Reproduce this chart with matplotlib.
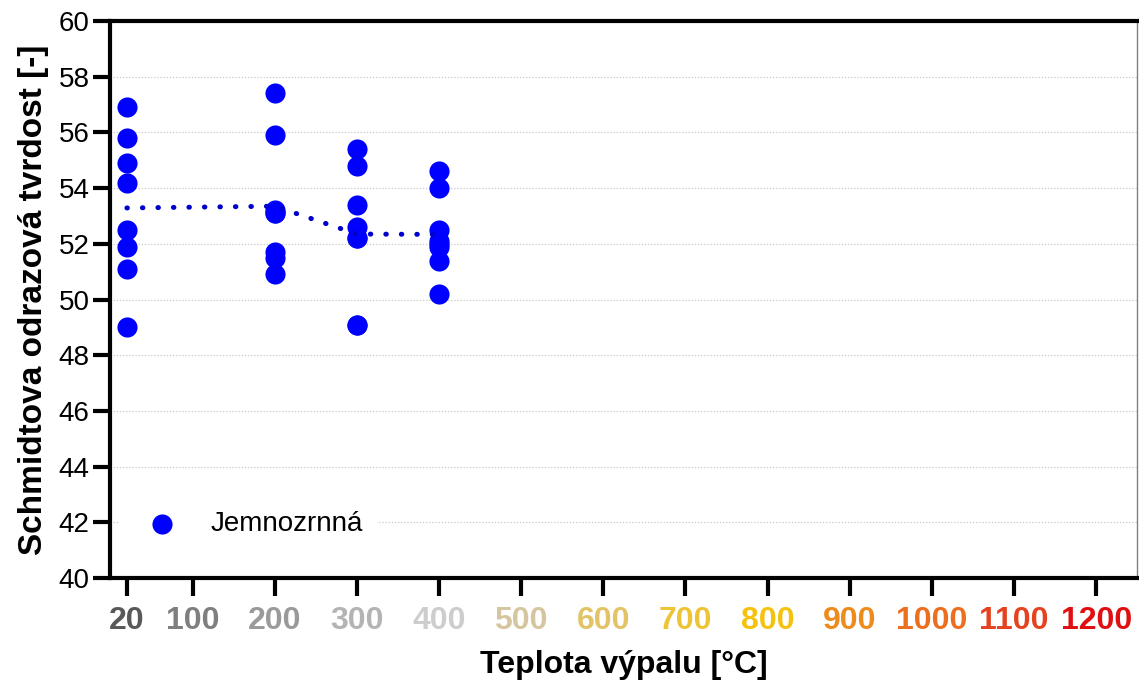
import numpy as np
import matplotlib
matplotlib.use('Agg')
import matplotlib.pyplot as plt

plt.rcParams['font.family'] = ['Liberation Sans', 'DejaVu Sans']

# Teploty výpalu a naměřené odrazy (Schmidtovo kladívko)
teploty = [20, 200, 300, 400]
odrazy = [
    [56.9, 55.8, 54.9, 54.2, 52.5, 51.9, 51.1, 49.0],
    [57.4, 55.9, 53.1, 53.2, 51.7, 51.5, 50.9, 53.1],
    [55.4, 54.8, 53.4, 52.6, 52.2, 52.2, 49.1, 49.1],
    [54.6, 54.0, 52.5, 52.1, 51.9, 51.4, 50.2, 52.0],
]

tick_teploty = [20, 100, 200, 300, 400, 500, 600, 700, 800, 900, 1000, 1100, 1200]
tick_barvy = ['#595959', '#7f7f7f', '#9a9a9a', '#b4b4b4', '#cdcdcd', '#d5c6a0',
              '#e2c467', '#eec437', '#f4c20f', '#ee8b1d', '#ec6e1f', '#e5431f', '#df0f12']

modra = '#0000ff'

fig = plt.figure(figsize=(11.39, 6.86), dpi=100)
ax = fig.add_axes([0.097, 0.1574, 0.9015, 0.812])

for t, vals in zip(teploty, odrazy):
    ax.scatter([t] * len(vals), vals, s=210, color=modra, zorder=3,
               linewidths=0, label='Jemnozrnná' if t == teploty[0] else None)

prumery = [np.mean(v) for v in odrazy]
ax.plot(teploty, prumery, color='#0000cc', lw=3.6, linestyle=(0, (0.1, 3.0)),
        dash_capstyle='round', zorder=4)

ax.set_xlim(0, 1250)
ax.set_ylim(40, 60)
ax.set_yticks(np.arange(40, 61, 2))
ax.set_xticks(tick_teploty)
ax.set_xticklabels([str(t) for t in tick_teploty])

for lab, c in zip(ax.get_xticklabels(), tick_barvy):
    lab.set_color(c)
    lab.set_fontweight('bold')
    lab.set_fontsize(23)
    lab.set_family(['Liberation Sans Narrow', 'Liberation Sans'])

ax.tick_params(axis='y', labelsize=20, length=12, width=3, pad=3)
ax.tick_params(axis='x', length=13, width=3, pad=7)

ax.grid(axis='y', linestyle=(0, (1, 1.5)), color='#c8c8c8', lw=0.9)
ax.set_axisbelow(True)

for s in ['left', 'bottom', 'top']:
    ax.spines[s].set_linewidth(3)
    ax.spines[s].set_color('black')
ax.spines['right'].set_linewidth(1)
ax.spines['right'].set_color('#808080')

ax.set_xlabel('Teplota výpalu [°C]', fontsize=23, fontweight='bold', labelpad=10)
ax.set_ylabel('Schmidtova odrazová tvrdost [-]', fontsize=24, fontweight='bold', labelpad=7)

leg = ax.legend(loc='lower left', bbox_to_anchor=(-0.004, 0.024), fontsize=20,
                frameon=True, facecolor='white', edgecolor='none', framealpha=1,
                handletextpad=0.75, borderpad=0.5, scatterpoints=1, fancybox=False)

fig.savefig('out.png', dpi=100)
